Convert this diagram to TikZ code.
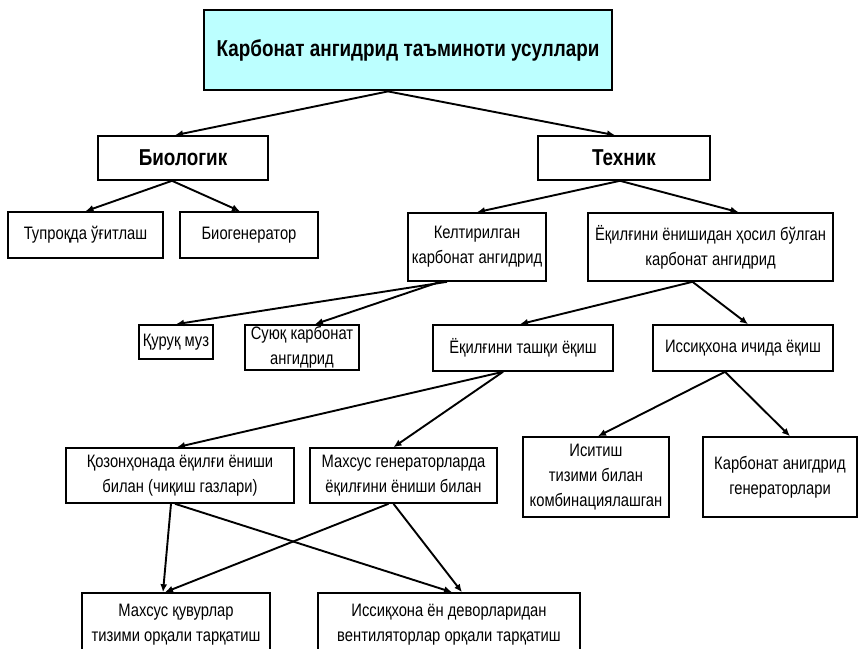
\documentclass[tikz,border=0pt]{standalone}
\usepackage{fontspec}
\setmainfont{Liberation Sans}[FakeStretch=0.82]
\usetikzlibrary{arrows.meta}
\definecolor{topfill}{RGB}{188,255,255}
\tikzset{
  box/.style={draw, line width=1.6pt, inner sep=0pt, align=center, font=\fontsize{18}{25}\selectfont},
  boldbox/.style={box, font=\bfseries\fontsize{23}{25}\selectfont},
  titlebox/.style={draw, line width=2.8pt, fill=topfill, inner sep=0pt, align=center, font=\bfseries\fontsize{23}{28}\selectfont},
  arr/.style={line width=1.9pt, -{Latex[length=8pt,width=7pt]}}
}
\begin{document}
\begin{tikzpicture}[x=1pt,y=-1pt]
\useasboundingbox (0,0) rectangle (858,648);
\clip (0,0) rectangle (858,648);
\node[titlebox, minimum width=408, minimum height=80] (top) at (408,50) {Карбонат ангидрид таъминоти усуллари};
\node[boldbox, minimum width=170, minimum height=44] (bio) at (183,158) {Биологик};
\node[boldbox, minimum width=172, minimum height=44] (tech) at (624,158) {Техник};
\node[box, minimum width=155, minimum height=46] (tup) at (85.5,235) {Тупроқда ўғитлаш};
\node[box, minimum width=138, minimum height=46] (biogen) at (249,235) {Биогенератор};
\node[box, minimum width=138, minimum height=68] (kelt) at (477,247) {Келтирилган\\карбонат ангидрид};
\node[box, minimum width=245, minimum height=68] (yoq) at (710.5,247) {Ёқилғини ёнишидан ҳосил бўлган\\карбонат ангидрид};
\node[box, minimum width=74, minimum height=34] (quruq) at (176,342) {Қуруқ муз};
\node[box, minimum width=114, minimum height=45] (suyuq) at (302,347.5) {Суюқ карбонат\\ангидрид};
\node[box, minimum width=180, minimum height=46] (tashqi) at (523,348) {Ёқилғини ташқи ёқиш};
\node[box, minimum width=180, minimum height=46] (ichida) at (743,348) {Иссиқхона ичида ёқиш};
\node[box, minimum width=228, minimum height=55] (qozon) at (180,475.5) {Қозонҳонада ёқилғи ёниши\\билан (чиқиш газлари)};
\node[box, minimum width=187, minimum height=55] (maxgen) at (403.5,475.5) {Махсус генераторларда\\ёқилғини ёниши билан};
\node[box, minimum width=146, minimum height=80] (isitish) at (596,477) {Иситиш\\тизими билан\\комбинациялашган};
\node[box, minimum width=154, minimum height=80] (kargen) at (780,477) {Карбонат анигдрид\\генераторлари};
\node[box, minimum width=188, minimum height=64] (quvur) at (176,625) {Махсус қувурлар\\тизими орқали тарқатиш};
\node[box, minimum width=262, minimum height=64] (en) at (449,625) {Иссиқхона ён деворларидан\\вентиляторлар орқали тарқатиш};
\draw[arr] ([xshift=-20]top.south) -- ([xshift=-8]bio.north);
\draw[arr] ([xshift=-20]top.south) -- ([xshift=-9]tech.north);
\draw[arr] ([xshift=-11]bio.south) -- (tup.north);
\draw[arr] ([xshift=-11]bio.south) -- ([xshift=-9]biogen.north);
\draw[arr] ([xshift=-4]tech.south) -- (kelt.north);
\draw[arr] ([xshift=-4]tech.south) -- ([xshift=28]yoq.north);
\draw[arr] ([xshift=-30]kelt.south) -- (quruq.north);
\draw[arr] ([xshift=-37]kelt.south) -- ([xshift=13]suyuq.north);
\draw[arr] ([xshift=-18]yoq.south) -- ([xshift=-3]tashqi.north);
\draw[arr] ([xshift=-18]yoq.south) -- ([xshift=5]ichida.north);
\draw[arr] ([xshift=-20]tashqi.south) -- ([xshift=-3]qozon.north);
\draw[arr] ([xshift=-20]tashqi.south) -- ([xshift=-10]maxgen.north);
\draw[arr] ([xshift=-18]ichida.south) -- ([xshift=2]isitish.north);
\draw[arr] ([xshift=-18]ichida.south) -- ([xshift=10]kargen.north);
\draw[arr] ([xshift=-9]qozon.south) -- ([xshift=-13]quvur.north);
\draw[arr] ([xshift=-5]qozon.south) -- ([xshift=3]en.north);
\draw[arr] ([xshift=-15]maxgen.south) -- ([xshift=-11]quvur.north);
\draw[arr] ([xshift=-10]maxgen.south) -- ([xshift=13]en.north);
\end{tikzpicture}
\end{document}
